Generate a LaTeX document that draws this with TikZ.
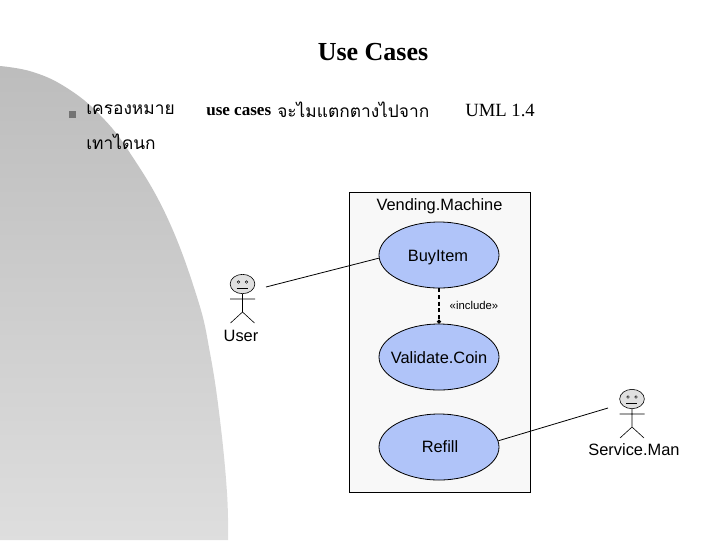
\documentclass[tikz,border=0pt]{standalone}
\usepackage{fontspec}
\setmainfont{Liberation Serif}
\setsansfont{Liberation Sans}
\newfontfamily\thaifont[Script=Thai]{Loma}
\usetikzlibrary{shapes.geometric,arrows.meta}
\definecolor{usecasefill}{HTML}{B0C4F9}
\definecolor{boxfill}{HTML}{F8F8F8}
\tikzset{
  x=0.75pt,y=-0.75pt,
  usecase/.style={draw=black,fill=usecasefill,ellipse,inner sep=0pt,line width=0.6pt,minimum width=90pt,minimum height=49.5pt},
  label/.style={inner sep=0pt,font=\sffamily\fontsize{12.3}{14}\selectfont},
  thai/.style={inner sep=0pt,anchor=west,font=\thaifont\fontsize{13}{16}\selectfont},
  serif/.style={inner sep=0pt,anchor=west},
  assoc/.style={draw=black,line width=0.6pt},
  actorline/.style={draw=black,line width=0.45pt},
  head/.style={draw=black,fill=black!12,ellipse,inner sep=0pt,line width=0.45pt,minimum width=18.5pt,minimum height=14.5pt}
}
\newcommand{\actorfig}[3]{% name, x, y of head centre
  \node[head] (#1) at (#2,#3) {};
  \draw[line width=0.35pt] (#2-4,#3-2) circle (1pt) (#2+4,#3-2) circle (1pt);
  \draw[actorline] (#2-6,#3+4) -- (#2+5,#3+4);
  \draw[actorline] (#1.south) -- (#2,#3+28) (#2-12.5,#3+15) -- (#2+12.5,#3+15)
     (#2-12,#3+39) -- (#2,#3+28) -- (#2+12,#3+39);
}
\begin{document}
\begin{tikzpicture}
\useasboundingbox (0,0) rectangle (720,540);
\shade[top color=black!26,bottom color=black!13]
  plot[smooth,tension=0.7] coordinates {(0,66) (33,72) (67,88) (100,115) (130,153) (167,217) (197,297) (210,353) (220,420) (227,493) (228,540)}
  -- (0,540) -- cycle;
\node[inner sep=0pt,font=\bfseries\fontsize{19.5}{22}\selectfont] (title) at (373,52) {Use Cases};
\node[fill=black!55,minimum size=5pt,inner sep=0pt] (bullet) at (72.5,114.5) {};
\node[thai] (t1) at (86,110) {เครองหมาย};
\node[serif,font=\bfseries\fontsize{12.8}{14}\selectfont] (t2) at (206,112) {use cases};
\node[thai] (t3) at (277,110) {จะไมแตกตางไปจาก};
\node[serif,font=\fontsize{14}{16}\selectfont] (t4) at (465,110) {UML 1.4};
\node[thai] (t5) at (86,142) {เทาไดนก};
\node[draw=black,fill=boxfill,line width=0.6pt,inner sep=0pt,minimum width=135.75pt,minimum height=225pt] (system) at (439.5,342) {};
\node[label] (systemname) at (439.5,206) {Vending.Machine};
\node[usecase] (buy) at (439,255) {};
\node[usecase] (validate) at (439,357) {};
\node[usecase] (refill) at (439,447) {};
\node[label] (buylabel) at (438,257.5) {BuyItem};
\node[label] (validatelabel) at (439,358) {Validate.Coin};
\node[label] (refilllabel) at (440,447) {Refill};
\node[inner sep=0pt,font=\sffamily\fontsize{8.5}{10}\selectfont] (incl) at (474,305) {«include»};
\draw[line width=1.1pt,dash pattern=on 3pt off 2pt,-{Circle[length=3pt]}] (buy) -- (validate);
\actorfig{useractor}{242.5}{284}
\actorfig{serviceactor}{632}{399}
\node[label] (userlabel) at (241,335.5) {User};
\node[label] (servicelabel) at (634,450) {Service.Man};
\coordinate (userend) at (266,287);
\coordinate (serviceend) at (608,408);
\draw[assoc] (userend) -- (buy.183);
\draw[assoc] (serviceend) -- (refill.6);
\end{tikzpicture}
\end{document}
